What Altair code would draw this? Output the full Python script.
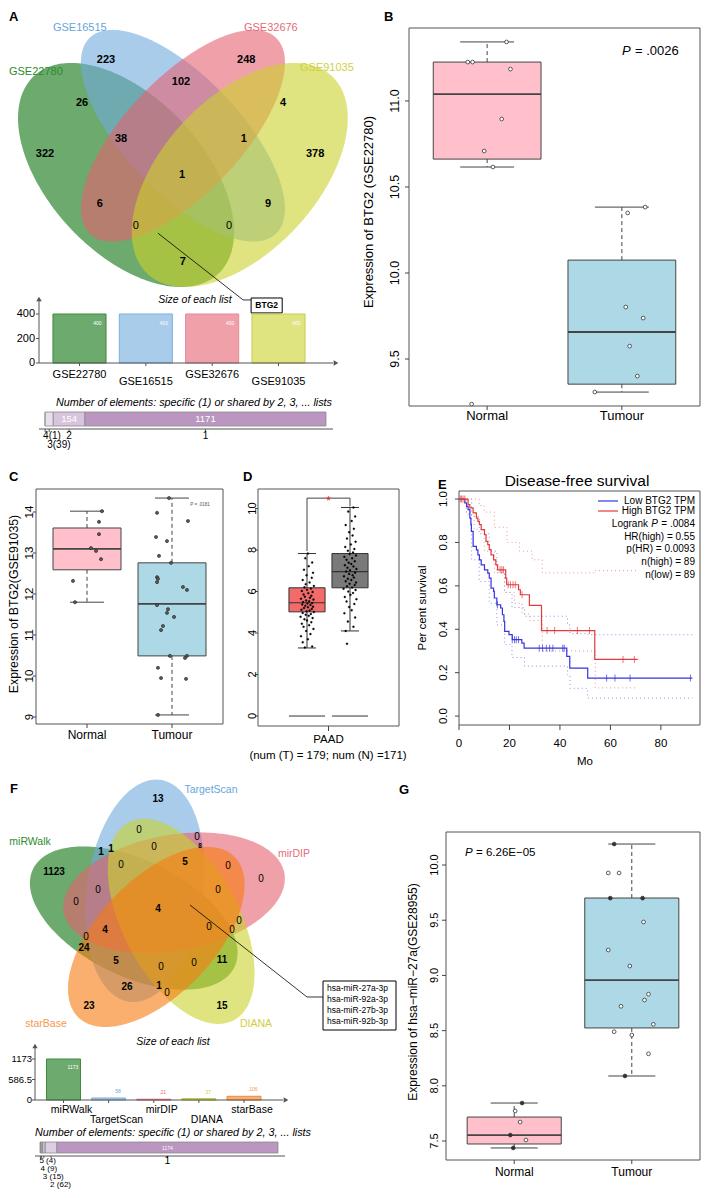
import altair as alt
import numpy as np
import pandas as pd

FONT = "Liberation Sans"
M = 8              # html page margin
W, H = 693, 1182   # drawing canvas

# =============================== DATA ===============================
# A : four GEO data sets
A_sets = ["GSE22780", "GSE16515", "GSE32676", "GSE91035"]
A_region_n = [322, 223, 248, 378, 26, 102, 4, 38, 1, 1, 6, 9, 0, 0, 7]
A_list_size = [400, 400, 400, 400]
A_share_lbl = ["4(1)", "3(39)", "2", "1"]
A_share_n = [1, 39, 154, 1171]

# B : BTG2 in GSE22780
B_q1 = [10.662, 9.354]
B_med = [11.040, 9.657]
B_q3 = [11.226, 10.075]
B_lo = [10.616, 9.308]
B_hi = [11.343, 10.383]
B_pt_g = [1.144, 0.856, 0.892, 1.173, 1.108, 0.978, 1.043, 0.885,
          2.173, 2.043, 2.029, 2.158, 2.058, 2.115, 1.799]
B_pt_v = [11.343, 11.226, 11.226, 11.185, 10.895, 10.709, 10.616, 9.238,
          10.383, 10.349, 9.802, 9.738, 9.575, 9.401, 9.308]
B_yticks = [9.5, 10.0, 10.5, 11.0]

# C : BTG2 in GSE91035
C_q1 = [12.59, 10.49]
C_med = [13.10, 11.76]
C_q3 = [13.61, 12.76]
C_lo = [11.80, 9.05]
C_hi = [14.02, 14.34]
C_pt_g = [1.176, 1.141, 1.141, 1.047, 1.106, 1.165, 0.835, 0.859,
          1.965, 1.824, 2.188, 1.812, 1.941, 1.847, 1.988, 1.824, 1.835, 1.824,
          2.129, 2.176, 1.824, 1.953, 1.941, 2.024, 1.894, 1.871, 1.976, 2.153,
          2.176, 1.835, 1.871, 2.165, 1.835]
C_pt_v = [14.02, 13.76, 13.46, 13.12, 13.05, 12.85, 12.32, 11.80,
          14.34, 13.98, 13.78, 13.39, 13.29, 12.93, 12.76, 12.41, 12.37, 12.29,
          12.17, 12.10, 11.73, 11.63, 11.54, 11.44, 11.22, 11.12, 10.49, 10.44,
          10.49, 10.20, 9.95, 9.93, 9.05]
C_yticks = [9, 10, 11, 12, 13, 14]

# D : GEPIA PAAD (T = 1, N = 2)
D_q1 = [5.02, 6.18]
D_med = [5.46, 6.96]
D_q3 = [6.18, 7.83]
D_lo = [3.28, 4.10]
D_hi = [7.83, 10.05]
D_T_dx = [-0.05, 0.12, -0.10, 0.02, -0.14, 0.08, -0.02, 0.15, -0.08, 0.05,
          -0.12, 0.10, 0.00, -0.06, 0.13, -0.15, 0.04, -0.03, 0.09, -0.10,
          0.16, -0.01, 0.06, -0.13, 0.11, -0.07, 0.02, 0.14, -0.04, 0.08,
          -0.11, 0.01, 0.12, -0.09, 0.05, -0.02, 0.15, -0.14, 0.07, -0.05,
          0.10, -0.08, 0.03, 0.13, -0.12, 0.00, 0.09, -0.06, 0.16, -0.03,
          0.06, -0.10, 0.11, -0.01, 0.14, -0.07, 0.04, 0.12, -0.04, 0.02]
D_T_v = [3.30, 3.35, 3.55, 3.70, 3.85, 3.95, 4.10, 4.20, 4.30, 4.38,
         4.45, 4.52, 4.60, 4.66, 4.72, 4.78, 4.83, 4.88, 4.92, 4.97,
         5.01, 5.05, 5.08, 5.12, 5.16, 5.20, 5.24, 5.27, 5.31, 5.35,
         5.38, 5.42, 5.45, 5.49, 5.53, 5.57, 5.61, 5.65, 5.70, 5.75,
         5.80, 5.86, 5.92, 5.98, 6.03, 6.08, 6.14, 6.20, 6.27, 6.35,
         6.44, 6.55, 6.66, 6.78, 6.90, 7.05, 7.22, 7.40, 7.60, 7.83]
D_N_dx = [-0.07, -0.10, 0.08, -0.05, 0.12, -0.13, 0.04, -0.02, 0.10, -0.08,
          0.15, -0.12, 0.01, 0.07, -0.04, 0.13, -0.15, 0.05, -0.07, 0.11,
          -0.01, 0.14, -0.10, 0.03, -0.05, 0.09, -0.14, 0.06, -0.02, 0.12,
          -0.09, 0.00, 0.15, -0.06, 0.08, -0.12, 0.03, -0.03, 0.11, -0.08,
          0.05, -0.13, 0.14, -0.01, 0.07, -0.05, 0.10, -0.11, 0.02, 0.13,
          -0.07, 0.06, -0.02, 0.09, -0.10, 0.04, 0.12, -0.04, 0.08]
D_N_v = [3.48, 4.10, 4.30, 4.55, 4.75, 4.95, 5.10, 5.25, 5.40, 5.52,
         5.63, 5.74, 5.84, 5.93, 6.00, 6.07, 6.13, 6.19, 6.25, 6.31,
         6.37, 6.43, 6.49, 6.55, 6.61, 6.67, 6.73, 6.79, 6.85, 6.91,
         6.97, 7.03, 7.09, 7.15, 7.21, 7.27, 7.33, 7.39, 7.46, 7.53,
         7.60, 7.67, 7.74, 7.81, 7.88, 7.96, 8.05, 8.15, 8.27, 8.40,
         8.55, 8.70, 8.86, 9.02, 9.20, 9.40, 9.62, 9.85, 10.05]
D_yticks = [0, 2, 4, 6, 8, 10]

# E : disease-free survival (months, proportion)
E_low_t = [0, 2.3, 3.0, 3.6, 4.3, 4.7, 4.9, 5.6, 6.9, 7.5, 8.1, 8.8, 10.1, 11.4, 12.0, 12.7,
           13.7, 14.0, 15.0, 16.5, 17.2, 17.8, 18.1, 19.8, 21.1, 24.9, 25.8, 42.7, 43.9, 51.0, 92.5]
E_low_s = [1.0, 0.982, 0.966, 0.951, 0.912, 0.882, 0.851, 0.782, 0.766, 0.743, 0.720, 0.697,
           0.674, 0.659, 0.636, 0.590, 0.575, 0.544, 0.513, 0.498, 0.467, 0.436, 0.390, 0.375,
           0.352, 0.336, 0.313, 0.275, 0.221, 0.175, 0.175]
E_high_t = [0, 3.6, 4.3, 5.6, 6.9, 7.5, 8.1, 8.8, 10.1, 10.7, 11.4, 12.0, 12.7, 13.7, 14.6,
            15.3, 18.5, 18.9, 23.6, 24.3, 27.9, 32.7, 53.8, 70.8]
E_high_s = [1.0, 0.974, 0.959, 0.936, 0.912, 0.897, 0.882, 0.859, 0.836, 0.805, 0.790, 0.767,
            0.743, 0.720, 0.697, 0.674, 0.636, 0.605, 0.582, 0.559, 0.510, 0.394, 0.261, 0.261]
E_low_cens_t = [15.2, 21.1, 22.0, 22.7, 23.6, 31.8, 33.1, 34.6, 35.9, 37.2, 41.1, 41.7,
                58.5, 61.8, 67.8, 91.7]
E_low_cens_s = [0.513, 0.352, 0.352, 0.352, 0.352, 0.313, 0.313, 0.313, 0.313, 0.313, 0.313,
                0.313, 0.175, 0.175, 0.175, 0.175]
E_high_cens_t = [0.5, 1.0, 1.6, 2.3, 16.3, 17.0, 17.6, 19.5, 20.4, 21.4, 22.3, 25.0,
                 34.9, 37.9, 46.9, 51.7, 65.0, 69.5]
E_high_cens_s = [1.0, 1.0, 1.0, 1.0, 0.674, 0.674, 0.674, 0.605, 0.605, 0.605, 0.605, 0.559,
                 0.394, 0.394, 0.394, 0.394, 0.261, 0.261]
E_low_up_t = [0, 3, 5, 8, 12, 15, 18, 21, 26, 43, 44, 51, 92.5]
E_low_up_s = [1.0, 1.0, 0.92, 0.84, 0.76, 0.66, 0.57, 0.50, 0.46, 0.42, 0.38, 0.375, 0.375]
E_low_dn_t = [0, 3, 5, 8, 12, 15, 18, 21, 26, 43, 44, 51, 92.5]
E_low_dn_s = [1.0, 0.93, 0.72, 0.62, 0.52, 0.42, 0.33, 0.27, 0.23, 0.19, 0.128, 0.083, 0.083]
E_high_up_t = [0, 4, 8, 10, 14, 19, 24, 29, 33, 54, 71]
E_high_up_s = [1.0, 1.0, 0.97, 0.94, 0.87, 0.80, 0.76, 0.72, 0.66, 0.67, 0.67]
E_high_dn_t = [0, 3, 6, 10, 14, 18, 22, 25, 28, 33, 54, 71]
E_high_dn_s = [1.0, 0.94, 0.86, 0.76, 0.66, 0.57, 0.52, 0.47, 0.44, 0.30, 0.13, 0.13]
E_xticks = [0, 20, 40, 60, 80]
E_yticks = [0.0, 0.2, 0.4, 0.6, 0.8, 1.0]

# F : five miRNA prediction tools
F_sets = ["miRWalk", "TargetScan", "mirDIP", "DIANA", "starBase"]
F_region_n = [13, 0, 0, 8, 1, 1, 0, 5, 0, 0, 1123, 0, 0, 0, 0, 4, 0, 0, 0, 4,
              0, 24, 5, 11, 0, 0, 26, 1, 0, 23, 15]
F_list_size = [1173, 58, 21, 37, 106]
F_share_lbl = ["5 (4)", "4 (9)", "3 (15)", "2 (62)", "1"]
F_share_n = [4, 9, 15, 62, 1174]
F_targets = ["hsa-miR-27a-3p", "hsa-miR-92a-3p", "hsa-miR-27b-3p", "hsa-miR-92b-3p"]

# G : hsa-miR-27a in GSE28955
G_q1 = [7.473, 8.524]
G_med = [7.554, 8.958]
G_q3 = [7.717, 9.701]
G_lo = [7.437, 8.089]
G_hi = [7.844, 10.19]
G_pt_g = [1.067, 1.008, 1.05, 0.967, 1.1, 0.992,
          1.85, 1.8, 1.892, 1.817, 2.092, 2.1, 1.8, 1.983, 2.142, 2.108, 1.908, 2.183,
          1.85, 2.0, 2.142, 1.942]
G_pt_v = [7.844, 7.772, 7.672, 7.554, 7.509, 7.437,
          10.19, 9.928, 9.928, 9.70, 9.70, 9.484, 9.23, 9.085, 8.83, 8.777, 8.72, 8.557,
          8.49, 8.46, 8.29, 8.089]
G_pt_solid = [1, 0, 0, 1, 0, 1, 1, 0, 0, 1, 1, 0, 0, 0, 0, 0, 0, 0, 0, 0, 0, 1]
G_yticks = [7.5, 8.0, 8.5, 9.0, 9.5, 10.0]

# =============================== LAYOUT / STYLE ===============================
RIGHT = 700   # right-most page pixel that the canvas can show

A_ell = dict(cx=[0.35, 0.50, 0.50, 0.65], cy=[0.47, 0.57, 0.57, 0.47],
             a=[0.35, 0.35, 0.35, 0.35], b=[0.20, 0.15, 0.15, 0.20], rot=[135, 135, 45, 45])
A_col = ["#0b720b", "#6faade", "#e6606f", "#ccd22c"]
A_bar_edge = ["#3f8a3f", "#7fb0dc", "#e08a95", "#c6ca55"]
A_txtcol = ["#2d8a2d", "#67a6dc", "#e56b77", "#cfd042"]
A_lbl_u = [0.136, 0.297, 0.667, 0.849, 0.234, 0.495, 0.764, 0.337, 0.661, 0.498, 0.281, 0.725, 0.376, 0.622, 0.500]
A_lbl_v = [0.523, 0.763, 0.763, 0.523, 0.653, 0.707, 0.653, 0.562, 0.562, 0.470, 0.396, 0.396, 0.340, 0.340, 0.249]
A_set_u = [0.112, 0.228, 0.732, 0.880]
A_set_v = [0.732, 0.844, 0.844, 0.742]

F_ell = dict(cx=[-0.2426, -0.1325, 0.1607, 0.2318, -0.0174],
             cy=[-0.0605, 0.2120, 0.1915, -0.0937, -0.2494],
             a=[1.12] * 5, b=[0.58] * 5, rot=[154, 82, 10, 118, 46])
F_col = ["#0b720b", "#6faade", "#e6606f", "#ccd22c", "#f7790f"]
F_bar_edge = ["#3f8a3f", "#7fb0dc", "#e0606f", "#b8bc30", "#f08a3a"]
F_txtcol = ["#2d8a2d", "#67a6dc", "#e56b77", "#cdd13c", "#f39a4e"]
F_lbl_u = [0.00, -0.19, 0.39, 0.42, -0.57, -0.47, -0.04, 0.27, 0.70, -0.37, -1.04, 1.03, -0.60,
           0.60, -0.82, 0.00, 0.81, 0.51, 0.74, -0.53, -0.72, -0.74, -0.42, 0.64, 0.36, 0.03,
           -0.31, 0.01, 0.09, -0.69, 0.64]
F_lbl_v = [1.13, 0.82, 0.75, 0.66, 0.60, 0.63, 0.65, 0.50, 0.46, 0.47, 0.40, 0.33, 0.22,
           0.22, 0.10, 0.03, -0.09, -0.15, -0.18, -0.18, -0.25, -0.36, -0.49, -0.48, -0.51, -0.55,
           -0.75, -0.74, -0.81, -0.94, -0.94]
F_set_u = [-1.28, 0.53, 1.36, 0.98, -1.12]
F_set_v = [0.70, 1.22, 0.58, -1.12, -1.12]


def sc(dom, p0, p1):
    """scale whose range is given in page pixels (p0 -> dom[0], p1 -> dom[1])"""
    return alt.Scale(domain=list(dom), range=[p0 - M, p1 - M], nice=False, zero=False)


def ellipse_area(cx, cy, a, b, rot, n=180):
    th = np.radians(rot)
    c, s = np.cos(th), np.sin(th)
    hw = np.sqrt((a * c) ** 2 + (b * s) ** 2)
    t = np.linspace(np.pi, 0, n)
    xs = cx + hw * np.cos(t)
    dx = xs - cx
    P = s ** 2 / a ** 2 + c ** 2 / b ** 2
    Q = 2 * dx * c * s * (1 / a ** 2 - 1 / b ** 2)
    R = dx ** 2 * (c ** 2 / a ** 2 + s ** 2 / b ** 2) - 1
    r = np.sqrt(np.clip(Q ** 2 - 4 * P * R, 0, None))
    return pd.DataFrame({"x": xs, "lo": cy + (-Q - r) / (2 * P), "hi": cy + (-Q + r) / (2 * P)})


def PX(f):
    return alt.X(f, scale=None, axis=None)


def PY(f):
    return alt.Y(f, scale=None, axis=None)


def TXT(rows, size=11, weight="normal", style="normal", align="center", baseline="middle",
        color="black", angle=0):
    df = pd.DataFrame(rows, columns=["t", "x", "y"])
    df["x"] = df["x"] - M
    df["y"] = df["y"] - M
    return alt.Chart(df).mark_text(font=FONT, fontSize=size, fontWeight=weight, fontStyle=style,
                                   align=align, baseline=baseline, color=color, angle=angle
                                   ).encode(x=PX("x:Q"), y=PY("y:Q"), text="t:N")


def RULES(rows, color="#444", width=1.0, dash=None):
    df = pd.DataFrame(rows, columns=["x", "y", "x2", "y2"]) - M
    kw = dict(color=color, strokeWidth=width)
    if dash is not None:
        kw["strokeDash"] = dash
    return alt.Chart(df).mark_rule(**kw).encode(x=PX("x:Q"), y=PY("y:Q"), x2="x2:Q", y2="y2:Q")


def ARROWS(rows, shape, size=28, color="#555"):
    df = pd.DataFrame(rows, columns=["x", "y"]) - M
    return alt.Chart(df).mark_point(shape=shape, size=size, filled=True, color=color, opacity=1,
                                    strokeWidth=0).encode(x=PX("x:Q"), y=PY("y:Q"))


def yaxis(ysc, vals, labs, frame_x, lab_x, size, tick=4, rot=True, tcol="#444"):
    df = pd.DataFrame({"v": vals, "t": labs})
    Yv = alt.Y("v:Q", scale=ysc, axis=None)
    r = alt.Chart(df).mark_rule(color=tcol, strokeWidth=1).encode(
        x=alt.value(frame_x - tick - M), x2=alt.value(frame_x - M), y=Yv)
    if rot:
        t = alt.Chart(df).mark_text(font=FONT, fontSize=size, angle=270, align="center",
                                    baseline="bottom", color="black").encode(
            x=alt.value(lab_x - M), y=Yv, text="t:N")
    else:
        t = alt.Chart(df).mark_text(font=FONT, fontSize=size, align="right", baseline="middle",
                                    color="black").encode(x=alt.value(lab_x - M), y=Yv, text="t:N")
    return [r, t]


def xaxis(xsc, vals, labs, frame_y, lab_y, size, tick=4, tcol="#444"):
    df = pd.DataFrame({"v": vals, "t": labs})
    Xv = alt.X("v:Q", scale=xsc, axis=None)
    r = alt.Chart(df).mark_rule(color=tcol, strokeWidth=1).encode(
        x=Xv, y=alt.value(frame_y - M), y2=alt.value(frame_y + tick - M))
    t = alt.Chart(df).mark_text(font=FONT, fontSize=size, baseline="top", color="black").encode(
        x=Xv, y=alt.value(lab_y - M), text="t:N")
    return [r, t]


def boxpanel(q1, med, q3, lo, hi, fills, pg, pv, pfill, xsc, ysc, xdom, ydom, extra,
             half=0.4, cap=0.2, line="#333", frame="#555", dash=(4, 3), psize=16,
             pstroke="#333", mw=1.8, pw=0.8):
    st = pd.DataFrame({"g": [1.0, 2.0], "q1": q1, "med": med, "q3": q3, "lo": lo, "hi": hi,
                       "fill": fills})
    st["l"] = st.g - half
    st["r"] = st.g + half
    st["cl"] = st.g - cap
    st["cr"] = st.g + cap
    fr = pd.DataFrame({"x": [xdom[0]], "x2": [xdom[1]], "y": [ydom[0]], "y2": [ydom[1]]})
    pts = pd.DataFrame({"g": pg, "v": pv, "f": pfill})
    Xs = lambda f: alt.X(f, scale=xsc, axis=None)
    Ys = lambda f: alt.Y(f, scale=ysc, axis=None)
    base = alt.Chart(st)
    wkw = dict(color=line, strokeWidth=1)
    if dash:
        wkw["strokeDash"] = list(dash)
    layers = [
        alt.Chart(fr).mark_rect(fill="white", fillOpacity=0, stroke=frame, strokeWidth=1).encode(
            x=Xs("x:Q"), x2="x2:Q", y=Ys("y:Q"), y2="y2:Q"),
        base.mark_rule(**wkw).encode(x=Xs("g:Q"), y=Ys("q3:Q"), y2="hi:Q"),
        base.mark_rule(**wkw).encode(x=Xs("g:Q"), y=Ys("q1:Q"), y2="lo:Q"),
        base.mark_rule(color=line, strokeWidth=1).encode(x=Xs("cl:Q"), x2="cr:Q", y=Ys("hi:Q")),
        base.mark_rule(color=line, strokeWidth=1).encode(x=Xs("cl:Q"), x2="cr:Q", y=Ys("lo:Q")),
        base.mark_rect(stroke=line, strokeWidth=1).encode(
            x=Xs("l:Q"), x2="r:Q", y=Ys("q1:Q"), y2="q3:Q", fill=alt.Fill("fill:N", scale=None)),
        base.mark_rule(color=line, strokeWidth=mw).encode(x=Xs("l:Q"), x2="r:Q", y=Ys("med:Q")),
        alt.Chart(pts).mark_point(shape="circle", filled=True, size=psize, stroke=pstroke,
                                  strokeWidth=pw, opacity=1).encode(
            x=Xs("g:Q"), y=Ys("v:Q"), fill=alt.Fill("f:N", scale=None)),
    ]
    return alt.layer(*(layers + extra))


panels = []

# =============================== PANEL A ===============================
vx = sc([0, 1], -6.6, 372.4)
vy = sc([0, 1], 359.7, -33.3)
for i in range(4):
    d = ellipse_area(A_ell["cx"][i], A_ell["cy"][i], A_ell["a"][i], A_ell["b"][i], A_ell["rot"][i])
    panels.append(alt.Chart(d).mark_area(color=A_col[i], fillOpacity=0.6, strokeWidth=0).encode(
        x=alt.X("x:Q", scale=vx, axis=None), y=alt.Y("lo:Q", scale=vy, axis=None, stack=None),
        y2="hi:Q"))
a_lbl = pd.DataFrame({"u": A_lbl_u, "v": A_lbl_v, "t": [str(n) for n in A_region_n]})
a_set = pd.DataFrame({"u": A_set_u, "v": A_set_v, "t": A_sets, "c": A_txtcol})
a_call = pd.DataFrame({"u": [0.434, 0.659, 0.680], "v": [0.322, 0.152, 0.152], "o": [0, 1, 2]})
a_box = pd.DataFrame({"u": [0.680], "u2": [0.762], "v": [0.119], "v2": [0.157], "t": ["BTG2"],
                      "um": [0.721], "vm": [0.138]})
VX = lambda f: alt.X(f, scale=vx, axis=None)
VY = lambda f: alt.Y(f, scale=vy, axis=None)
panels.append(alt.layer(
    alt.Chart(a_lbl[a_lbl.t != "0"]).mark_text(font=FONT, fontSize=11, fontWeight="bold").encode(
        x=VX("u:Q"), y=VY("v:Q"), text="t:N"),
    alt.Chart(a_lbl[a_lbl.t == "0"]).mark_text(font=FONT, fontSize=11).encode(
        x=VX("u:Q"), y=VY("v:Q"), text="t:N"),
    alt.Chart(a_set).mark_text(font=FONT, fontSize=11).encode(
        x=VX("u:Q"), y=VY("v:Q"), text="t:N", color=alt.Color("c:N", scale=None)),
    alt.Chart(a_call).mark_line(color="black", strokeWidth=0.8).encode(
        x=VX("u:Q"), y=VY("v:Q"), order="o:Q"),
    alt.Chart(a_box).mark_rect(fill="white", stroke="black", strokeWidth=1).encode(
        x=VX("u:Q"), x2="u2:Q", y=VY("v:Q"), y2="v2:Q"),
    alt.Chart(a_box).mark_text(font=FONT, fontSize=8.5, fontWeight="bold").encode(
        x=VX("um:Q"), y=VY("vm:Q"), text="t:N"),
))
panels.append(TXT([["Size of each list", 195, 300]], size=10.5, style="italic"))

# A bar chart
abx = sc([0, 3], 79.5, 278.5)
aby = sc([0, 400], 363, 314)
ab = pd.DataFrame({"i": [0, 1, 2, 3], "n": A_list_size, "set": A_sets, "fill": A_col, "edge": A_bar_edge})
ab["l"] = ab.i - 0.4
ab["r"] = ab.i + 0.4
ab["z"] = 0
ab["vx"] = ab.i + 0.27
ab["ly"] = [375 - M, 382 - M, 375 - M, 382 - M]
ab["vt"] = ab.n.astype(str)
A_yt = [0, 200, 400]
panels.append(alt.layer(*([
    alt.Chart(ab).mark_rect(fillOpacity=0.6, strokeWidth=1).encode(
        x=alt.X("l:Q", scale=abx, axis=None), x2="r:Q",
        y=alt.Y("z:Q", scale=aby, axis=None),
        y2="n:Q", fill=alt.Fill("fill:N", scale=None), stroke=alt.Stroke("edge:N", scale=None)),
    alt.Chart(ab).mark_rule(color="#555").encode(x=alt.X("i:Q", scale=abx, axis=None),
                                                 y=alt.value(363 - M), y2=alt.value(366 - M)),
    alt.Chart(ab).mark_text(font=FONT, fontSize=11, baseline="middle").encode(
        x=alt.X("i:Q", scale=abx, axis=None), y=PY("ly:Q"), text="set:N"),
    alt.Chart(ab).mark_text(font=FONT, fontSize=5, color="white", dy=9).encode(
        x=alt.X("vx:Q", scale=abx, axis=None), y=alt.Y("n:Q", scale=aby, axis=None), text="vt:N"),
] + yaxis(aby, A_yt, [str(v) for v in A_yt], 39, 35, 11, tick=3, rot=False, tcol="#555"))))
panels.append(RULES([[39, 363, 39, 301], [39, 363, 333, 363]], color="#555"))
panels.append(ARROWS([[39, 299]], "triangle-up", 30))
panels.append(ARROWS([[336, 363]], "triangle-right", 30))
panels.append(TXT([["Number of elements: specific (1) or shared by 2, 3, ... lists", 194, 403]],
                  size=10.8, style="italic"))

# A shared-element bar
aex = sc([0, sum(A_share_n)], 45, 326)
ae = pd.DataFrame({"lvl": A_share_lbl, "n": A_share_n,
                   "col": ["#d8cbdf", "#e8deed", "#d8c4de", "#ba96c0"]})
ae["x1"] = np.cumsum(ae.n)
ae["x0"] = ae.x1 - ae.n
ae["mid"] = (ae.x0 + ae.x1) / 2
ae["nt"] = ae.n.astype(str)
ae["ly"] = [436 - M, 445 - M, 436 - M, 436 - M]
panels.append(RULES([[39, 429, 333, 429]], color="#555"))
panels.append(alt.layer(
    alt.Chart(ae).mark_rect(stroke="#8a8a8a", strokeWidth=0.8).encode(
        x=alt.X("x0:Q", scale=aex, axis=None), x2="x1:Q", y=alt.value(412 - M), y2=alt.value(426 - M),
        fill=alt.Fill("col:N", scale=None)),
    alt.Chart(ae[ae.n > 100]).mark_text(font=FONT, fontSize=9.5, color="white").encode(
        x=alt.X("mid:Q", scale=aex, axis=None), y=alt.value(419 - M), text="nt:N"),
    alt.Chart(ae).mark_rule(color="#555").encode(
        x=alt.X("mid:Q", scale=aex, axis=None), y=alt.value(429 - M), y2=alt.value(432 - M)),
    alt.Chart(ae[ae.n < 100]).mark_text(font=FONT, fontSize=10, align="left", dx=-2).encode(
        x=alt.X("mid:Q", scale=aex, axis=None), y=PY("ly:Q"), text="lvl:N"),
    alt.Chart(ae[ae.n >= 100]).mark_text(font=FONT, fontSize=10).encode(
        x=alt.X("mid:Q", scale=aex, axis=None), y=PY("ly:Q"), text="lvl:N"),
))

# =============================== PANEL B ===============================
bx = sc([0.42, 2.58], 409, RIGHT)
by = sc([9.227, 11.424], 406, 28)
panels.append(boxpanel(
    B_q1, B_med, B_q3, B_lo, B_hi, ["#ffc0cb", "#add8e6"], B_pt_g, B_pt_v,
    ["white"] * len(B_pt_g), bx, by, [0.42, 2.58], [9.227, 11.424],
    yaxis(by, B_yticks, ["%.1f" % v for v in B_yticks], 409, 401.5, 12.5, tick=4)
    + xaxis(bx, [1, 2], ["Normal", "Tumour"], 406, 410, 13, tick=4),
    psize=14, pstroke="#333", line="#444"))
panels.append(TXT([["Expression of BTG2 (GSE22780)", 369, 212]], size=13, angle=270))
panels.append(TXT([["P", 622, 51]], size=13, style="italic", align="left"))
panels.append(TXT([["= .0026", 635, 51]], size=13, align="left"))

# =============================== PANEL C ===============================
cxs = sc([0.4, 2.6], 36, 223)
cys = sc([8.829, 14.561], 724, 489)
panels.append(boxpanel(
    C_q1, C_med, C_q3, C_lo, C_hi, ["#ffc0cb", "#add8e6"], C_pt_g, C_pt_v,
    ["#5a5a5a"] * len(C_pt_g), cxs, cys, [0.4, 2.6], [8.829, 14.561],
    yaxis(cys, C_yticks, [str(v) for v in C_yticks], 36, 35, 11.5, tick=3)
    + xaxis(cxs, [1, 2], ["Normal", "Tumour"], 724, 730, 12, tick=4),
    psize=10, pstroke="#222", line="#444", pw=0.6))
panels.append(TXT([["Expression of BTG2(GSE91035)", 14, 604]], size=12.3, angle=270))
panels.append(TXT([["P = .0181", 200, 505]], size=4.5, color="#555"))

# =============================== PANEL D ===============================
dxs = sc([-0.14, 3.14], 258, 399)
dys = sc([-0.48, 10.94], 726, 489)
dpts_g = [1 + d for d in D_T_dx] + [2 + d for d in D_N_dx]
dpts_v = D_T_v + D_N_v
panels.append(boxpanel(
    D_q1, D_med, D_q3, D_lo, D_hi, ["#f26a6a", "#7a7a7a"], dpts_g, dpts_v,
    ["black"] * len(dpts_g), dxs, dys, [-0.14, 3.14], [-0.48, 10.94],
    yaxis(dys, D_yticks, [str(v) for v in D_yticks], 258, 257.5, 11, tick=3)
    + xaxis(dxs, [1.5], ["PAAD"], 726, 734, 11.5, tick=5),
    half=0.42, cap=0.21, dash=None, psize=4, pstroke="black", line="#333", mw=1.2, pw=0.3))
dz = pd.DataFrame({"l": [0.58, 1.58], "r": [1.42, 2.42], "v": [0.0, 0.0]})
dbr = pd.DataFrame({"g": [1, 1, 2, 2], "v": [7.95, 10.5, 10.5, 10.1], "o": [0, 1, 2, 3]})
dstar = pd.DataFrame({"g": [1.5], "v": [10.5], "t": ["*"]})
panels.append(alt.layer(
    alt.Chart(dz).mark_rule(color="#333", strokeWidth=1).encode(
        x=alt.X("l:Q", scale=dxs, axis=None), x2="r:Q", y=alt.Y("v:Q", scale=dys, axis=None)),
    alt.Chart(dbr).mark_line(color="#444", strokeWidth=1).encode(
        x=alt.X("g:Q", scale=dxs, axis=None), y=alt.Y("v:Q", scale=dys, axis=None), order="o:Q"),
    alt.Chart(dstar).mark_text(font=FONT, fontSize=12, color="#e8202a", dy=3).encode(
        x=alt.X("g:Q", scale=dxs, axis=None), y=alt.Y("v:Q", scale=dys, axis=None), text="t:N"),
))
panels.append(TXT([["(num (T) = 179; num (N) =171)", 328, 756]], size=11.5))

# =============================== PANEL E ===============================
exs = sc([0, 95.5], 459, RIGHT)
eys = sc([-0.041, 1.037], 725, 491)
EX = lambda f: alt.X(f, scale=exs, axis=None)
EY = lambda f: alt.Y(f, scale=eys, axis=None)
blue, red = "#3535e0", "#e33a3a"
ekm = pd.concat([pd.DataFrame({"t": E_low_t, "s": E_low_s, "c": blue}),
                 pd.DataFrame({"t": E_high_t, "s": E_high_s, "c": red})])
eci = pd.concat([pd.DataFrame({"t": E_low_up_t, "s": E_low_up_s, "c": "#8f8ff0", "k": "lu"}),
                 pd.DataFrame({"t": E_low_dn_t, "s": E_low_dn_s, "c": "#8f8ff0", "k": "ld"}),
                 pd.DataFrame({"t": E_high_up_t, "s": E_high_up_s, "c": "#f09090", "k": "hu"}),
                 pd.DataFrame({"t": E_high_dn_t, "s": E_high_dn_s, "c": "#f09090", "k": "hd"})])
ecens = pd.concat([pd.DataFrame({"t": E_low_cens_t, "s": E_low_cens_s, "c": blue}),
                   pd.DataFrame({"t": E_high_cens_t, "s": E_high_cens_s, "c": red})])
efr = pd.DataFrame({"x": [0], "x2": [95.5], "y": [-0.041], "y2": [1.037]})
panels.append(alt.layer(*([
    alt.Chart(efr).mark_rect(fill="white", fillOpacity=0, stroke="#555", strokeWidth=1).encode(
        x=EX("x:Q"), x2="x2:Q", y=EY("y:Q"), y2="y2:Q"),
    alt.Chart(eci).mark_line(interpolate="step-after", strokeWidth=1, strokeDash=[1, 3]).encode(
        x=EX("t:Q"), y=EY("s:Q"), color=alt.Color("c:N", scale=None), detail="k:N"),
    alt.Chart(ekm).mark_line(interpolate="step-after", strokeWidth=1.2).encode(
        x=EX("t:Q"), y=EY("s:Q"), color=alt.Color("c:N", scale=None)),
    alt.Chart(ecens).mark_tick(orient="vertical", size=7, thickness=1).encode(
        x=EX("t:Q"), y=EY("s:Q"), color=alt.Color("c:N", scale=None)),
] + yaxis(eys, E_yticks, ["%.1f" % v for v in E_yticks], 459, 448.5, 11.5, tick=4)
  + xaxis(exs, E_xticks, [str(v) for v in E_xticks], 725, 738, 11.5, tick=5))))
panels.append(TXT([["Disease-free survival", 577, 481]], size=15.5))
panels.append(TXT([["Mo", 585, 762]], size=11.5))
panels.append(TXT([["Per cent survival", 423, 608]], size=11.5, angle=270))
panels.append(RULES([[598, 501, 618, 501]], color=blue, width=1.2))
panels.append(RULES([[598, 511, 618, 511]], color=red, width=1.2))
panels.append(TXT([["Low BTG2 TPM", 695, 501], ["High BTG2 TPM", 695, 511], ["= .0084", 695, 524],
                   ["HR(high) = 0.55", 695, 537], ["p(HR) = 0.0093", 695, 549],
                   ["n(high) = 89", 695, 562], ["n(low) = 89", 695, 575]], size=10, align="right"))
panels.append(TXT([["P", 658, 524]], size=10, align="right", style="italic"))
panels.append(TXT([["Logrank", 648, 524]], size=10, align="right"))

# =============================== PANEL F ===============================
fx = sc([-1.5, 2.5], 8, 408)
fy = sc([-1.3, 1.4], 1042, 772)
for i in range(5):
    d = ellipse_area(F_ell["cx"][i], F_ell["cy"][i], F_ell["a"][i], F_ell["b"][i], F_ell["rot"][i])
    panels.append(alt.Chart(d).mark_area(color=F_col[i], fillOpacity=0.6, strokeWidth=0).encode(
        x=alt.X("x:Q", scale=fx, axis=None), y=alt.Y("lo:Q", scale=fy, axis=None, stack=None),
        y2="hi:Q"))
FXs = lambda f: alt.X(f, scale=fx, axis=None)
FYs = lambda f: alt.Y(f, scale=fy, axis=None)
f_lbl = pd.DataFrame({"u": F_lbl_u, "v": F_lbl_v, "t": [str(n) for n in F_region_n]})
f_set = pd.DataFrame({"u": F_set_u, "v": F_set_v, "t": F_sets, "c": F_txtcol})
f_call = pd.DataFrame({"u": [0.32, 1.49, 1.65], "v": [0.07, -0.85, -0.85], "o": [0, 1, 2]})
f_box = pd.DataFrame({"u": [1.65], "u2": [2.38], "v": [-1.18], "v2": [-0.69]})
f_tg = pd.DataFrame({"u": [1.69] * 4, "v": [-0.76, -0.87, -0.98, -1.09], "t": F_targets})
panels.append(alt.layer(
    alt.Chart(f_lbl[(f_lbl.t != "0") & (f_lbl.t != "8")]).mark_text(
        font=FONT, fontSize=10, fontWeight="bold").encode(x=FXs("u:Q"), y=FYs("v:Q"), text="t:N"),
    alt.Chart(f_lbl[f_lbl.t == "8"]).mark_text(font=FONT, fontSize=6.5, fontWeight="bold").encode(
        x=FXs("u:Q"), y=FYs("v:Q"), text="t:N"),
    alt.Chart(f_lbl[f_lbl.t == "0"]).mark_text(font=FONT, fontSize=10).encode(
        x=FXs("u:Q"), y=FYs("v:Q"), text="t:N"),
    alt.Chart(f_set).mark_text(font=FONT, fontSize=10.5).encode(
        x=FXs("u:Q"), y=FYs("v:Q"), text="t:N", color=alt.Color("c:N", scale=None)),
    alt.Chart(f_call).mark_line(color="black", strokeWidth=0.8).encode(
        x=FXs("u:Q"), y=FYs("v:Q"), order="o:Q"),
    alt.Chart(f_box).mark_rect(fill="white", stroke="black", strokeWidth=1).encode(
        x=FXs("u:Q"), x2="u2:Q", y=FYs("v:Q"), y2="v2:Q"),
    alt.Chart(f_tg).mark_text(font=FONT, fontSize=8.5, align="left").encode(
        x=FXs("u:Q"), y=FYs("v:Q"), text="t:N"),
))
panels.append(TXT([["Size of each list", 173, 1042]], size=10.5, style="italic"))

# F bar chart
fbx = sc([0, 4], 63.5, 244)
fby = sc([0, 1173], 1100, 1059)
fb = pd.DataFrame({"i": [0, 1, 2, 3, 4], "n": F_list_size, "set": F_sets, "fill": F_col,
                   "edge": F_bar_edge, "tc": ["white", "#67a6dc", "#e56b77", "#cdd13c", "#f39a4e"]})
fb["l"] = fb.i - 0.377
fb["r"] = fb.i + 0.377
fb["z"] = 0
fb["vx"] = fb.i + 0.21
fb["vt"] = fb.n.astype(str)
fb["ly"] = [1110 - M, 1120 - M, 1110 - M, 1120 - M, 1110 - M]
F_yt = [0, 586.5, 1173]
panels.append(alt.layer(*([
    alt.Chart(fb).mark_rect(fillOpacity=0.6, strokeWidth=1).encode(
        x=alt.X("l:Q", scale=fbx, axis=None), x2="r:Q",
        y=alt.Y("z:Q", scale=fby, axis=None),
        y2="n:Q", fill=alt.Fill("fill:N", scale=None), stroke=alt.Stroke("edge:N", scale=None)),
    alt.Chart(fb).mark_rule(color="#555").encode(x=alt.X("i:Q", scale=fbx, axis=None),
                                                 y=alt.value(1100 - M), y2=alt.value(1103 - M)),
    alt.Chart(fb).mark_text(font=FONT, fontSize=10.5, dx=8).encode(
        x=alt.X("i:Q", scale=fbx, axis=None), y=PY("ly:Q"), text="set:N"),
    alt.Chart(fb[fb.n > 500]).mark_text(font=FONT, fontSize=5, dy=8).encode(
        x=alt.X("vx:Q", scale=fbx, axis=None), y=alt.Y("n:Q", scale=fby, axis=None), text="vt:N",
        color=alt.Color("tc:N", scale=None)),
    alt.Chart(fb[fb.n < 500]).mark_text(font=FONT, fontSize=5, dy=-7).encode(
        x=alt.X("vx:Q", scale=fbx, axis=None), y=alt.Y("n:Q", scale=fby, axis=None), text="vt:N",
        color=alt.Color("tc:N", scale=None)),
] + yaxis(fby, F_yt, ["0", "586.5", "1173"], 35, 32, 9.5, tick=3, rot=False, tcol="#555"))))
panels.append(RULES([[35, 1100, 35, 1048], [35, 1100, 283, 1100]], color="#555"))
panels.append(ARROWS([[35, 1046]], "triangle-up", 28))
panels.append(ARROWS([[286, 1100]], "triangle-right", 28))
panels.append(TXT([["Number of elements: specific (1) or shared by 2, 3, ... lists", 173, 1133]],
                  size=10.8, style="italic"))

# F shared-element bar
fex = sc([0, sum(F_share_n)], 40, 278)
fe = pd.DataFrame({"lvl": F_share_lbl, "n": F_share_n,
                   "col": ["#8e8e8e", "#a6a6a6", "#c9c0cf", "#dccfe3", "#ba96c0"]})
fe["x1"] = np.cumsum(fe.n)
fe["x0"] = fe.x1 - fe.n
fe["mid"] = (fe.x0 + fe.x1) / 2
fe["nt"] = fe.n.astype(str)
fe["ly"] = [1160.5 - M, 1168.5 - M, 1176.5 - M, 1184.5 - M, 1161 - M]
panels.append(RULES([[35, 1156, 285, 1156]], color="#555"))
panels.append(alt.layer(
    alt.Chart(fe).mark_rect(stroke="#8a8a8a", strokeWidth=0.8).encode(
        x=alt.X("x0:Q", scale=fex, axis=None), x2="x1:Q", y=alt.value(1142 - M), y2=alt.value(1153 - M),
        fill=alt.Fill("col:N", scale=None)),
    alt.Chart(fe[fe.n > 500]).mark_text(font=FONT, fontSize=5, color="white").encode(
        x=alt.X("mid:Q", scale=fex, axis=None), y=alt.value(1147.5 - M), text="nt:N"),
    alt.Chart(fe).mark_rule(color="#555").encode(
        x=alt.X("mid:Q", scale=fex, axis=None), y=alt.value(1156 - M), y2=alt.value(1158 - M)),
    alt.Chart(fe[fe.n < 500]).mark_text(font=FONT, fontSize=8, align="left", dx=-1).encode(
        x=alt.X("mid:Q", scale=fex, axis=None), y=PY("ly:Q"), text="lvl:N"),
    alt.Chart(fe[fe.n >= 500]).mark_text(font=FONT, fontSize=10.5).encode(
        x=alt.X("mid:Q", scale=fex, axis=None), y=PY("ly:Q"), text="lvl:N"),
))

# =============================== PANEL G ===============================
gxs = sc([0.42, 2.58], 446, RIGHT)
gys = sc([7.328, 10.299], 1160, 832)
panels.append(boxpanel(
    G_q1, G_med, G_q3, G_lo, G_hi, ["#ffc0cb", "#add8e6"], G_pt_g, G_pt_v,
    ["#333" if s else "white" for s in G_pt_solid], gxs, gys, [0.42, 2.58], [7.328, 10.299],
    yaxis(gys, G_yticks, ["%.1f" % v for v in G_yticks], 446, 439.5, 11, tick=4)
    + xaxis(gxs, [1, 2], ["Normal", "Tumour"], 1160, 1167, 12, tick=4),
    psize=14, pstroke="#333", line="#444"))
panels.append(TXT([["Expression of hsa\u2212miR\u221227a(GSE28955)", 413, 992]], size=12, angle=270))
panels.append(TXT([["P", 465, 853]], size=11.5, style="italic", align="left"))
panels.append(TXT([["= 6.26E\u221205", 476, 853]], size=11.5, align="left"))

# =============================== PANEL LETTERS ===============================
panels.append(TXT([["A", 9, 17], ["B", 384, 17], ["C", 9, 477], ["D", 243, 477], ["E", 438, 485],
                   ["F", 10, 789], ["G", 399, 790]], size=13, weight="bold", align="left"))

chart = alt.layer(*panels).resolve_scale(x="independent", y="independent").properties(
    width=W, height=H, autosize=alt.AutoSizeParams(type="none"), padding=0,
    background="white").configure_view(stroke=None)

chart.save("out.html", embed_options={"renderer": "svg", "actions": False})
